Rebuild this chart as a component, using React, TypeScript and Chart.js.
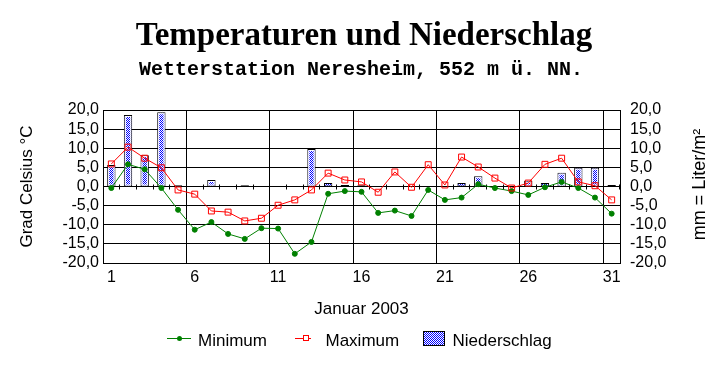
import React, { useEffect, useRef } from 'react';
import { Chart, registerables } from 'chart.js';

Chart.register(...registerables);

const titleText = 'Temperaturen und Niederschlag';
const subtitleText = 'Wetterstation Neresheim, 552 m ü. NN.';
const xTitle = 'Januar 2003';
const yLeftTitle = 'Grad Celsius °C';
const yRightTitle = 'mm = Liter/m²';

const days = [
  '1', '2', '3', '4', '5', '6', '7', '8', '9', '10',
  '11', '12', '13', '14', '15', '16', '17', '18', '19', '20',
  '21', '22', '23', '24', '25', '26', '27', '28', '29', '30', '31',
];

const minimum = [
  -0.4, 5.8, 4.5, -0.4, -6.1, -11.3, -9.3, -12.4, -13.7, -10.9,
  -11.0, -17.6, -14.5, -1.9, -1.2, -1.4, -6.9, -6.3, -7.7, -0.9,
  -3.5, -2.9, 0.6, -0.4, -1.2, -2.2, -0.2, 1.2, -0.4, -2.9, -7.1,
];

const maximum = [
  5.9, 10.3, 7.4, 4.9, -0.9, -2.0, -6.4, -6.7, -9.0, -8.3,
  -4.9, -3.5, -0.9, 3.5, 1.7, 1.2, -1.5, 3.8, -0.2, 5.7,
  0.4, 7.7, 5.1, 2.2, -0.4, 0.9, 5.8, 7.4, 1.2, 0.2, -3.5,
];

const niederschlag = [
  5.6, 18.7, 8.2, 19.4, 0.3, null, 1.7, null, 0.3, null,
  null, null, 9.8, 0.9, 0.4, 0.3, null, null, null, null,
  null, 0.9, 2.7, null, null, 1.5, 0.9, 3.6, 4.9, 4.9, 0.4,
];

const axisMin = -20;
const axisMax = 20;
const axisStep = 5;

const SANS = '"Liberation Sans", Arial, Helvetica, sans-serif';

function makePattern(): CanvasPattern | string {
  const pc = document.createElement('canvas');
  pc.width = 2;
  pc.height = 2;
  const p = pc.getContext('2d');
  if (!p) return '#0000ff';
  p.fillStyle = '#ffffff';
  p.fillRect(0, 0, 2, 2);
  p.fillStyle = '#0000ff';
  p.fillRect(0, 0, 1, 1);
  p.fillRect(1, 1, 1, 1);
  const pat = p.createPattern(pc, 'repeat');
  return pat || '#0000ff';
}

const fmt = (v: number) => v.toFixed(1).replace('.', ',');

export default function App() {
  const ref = useRef<HTMLCanvasElement | null>(null);

  useEffect(() => {
    if (!ref.current) return;
    const pattern = makePattern();

    const decor = {
      id: 'decor',
      beforeDatasetsDraw(chart: any) {
        const { ctx, scales } = chart;
        const x = scales.x;
        const y = scales.y;
        const align = (p: number) => Math.round(p - 0.5) + 0.5;
        const zeroY = align(y.getPixelForValue(0));
        const step = x.getPixelForValue(1) - x.getPixelForValue(0);
        const start = x.getPixelForValue(0) - step / 2;
        ctx.save();
        ctx.strokeStyle = '#000';
        ctx.lineWidth = 1;
        ctx.beginPath();
        for (let i = 0; i <= days.length; i++) {
          const bx = align(start + i * step);
          ctx.moveTo(bx, zeroY - 2);
          ctx.lineTo(bx, zeroY + 3);
        }
        ctx.stroke();
        ctx.restore();
      },
      afterDatasetDraw(chart: any, args: any) {
        const meta = args.meta;
        if (meta.type !== 'bar') return;
        const { ctx } = chart;
        ctx.save();
        ctx.strokeStyle = '#ffffff';
        ctx.lineWidth = 1;
        meta.data.forEach((el: any) => {
          const p = el.getProps(['x', 'y', 'base', 'width'], true);
          if (p.y == null || isNaN(p.y)) return;
          const top = Math.min(p.y, p.base);
          const h = Math.abs(p.base - p.y);
          if (h < 5 || p.width < 5) return;
          ctx.strokeRect(p.x - p.width / 2 + 1.5, top + 1.5, p.width - 3, h - 3);
        });
        ctx.restore();
      },
      afterDraw(chart: any) {
        const { ctx, chartArea } = chart;
        const ds = chart.data.datasets;
        ctx.save();
        ctx.fillStyle = '#000';
        ctx.textBaseline = 'alphabetic';

        // Title
        ctx.textAlign = 'center';
        ctx.font = 'bold 33px "Liberation Serif", "Times New Roman", serif';
        ctx.fillText(titleText, 364, 45);
        ctx.font = 'bold 20px "Liberation Mono", "Courier New", monospace';
        ctx.fillText(subtitleText, 361, 75);

        // X title
        ctx.font = '17px ' + SANS;
        ctx.fillText(xTitle, (chartArea.left + chartArea.right) / 2, 314);

        // Y titles
        ctx.save();
        ctx.translate(31.5, (chartArea.top + chartArea.bottom) / 2);
        ctx.rotate(-Math.PI / 2);
        ctx.font = '17px ' + SANS;
        ctx.fillText(yLeftTitle, 0, 0);
        ctx.restore();

        ctx.save();
        ctx.translate(705, (chartArea.top + chartArea.bottom) / 2 - 2);
        ctx.rotate(-Math.PI / 2);
        ctx.font = '18px ' + SANS;
        ctx.fillText(yRightTitle, 0, 0);
        ctx.restore();

        // Legend
        const ly = 338.5;
        const tb = 346;
        ctx.textAlign = 'left';
        ctx.font = '17px ' + SANS;
        ctx.lineWidth = 1;

        // Minimum
        ctx.strokeStyle = '#008000';
        ctx.beginPath();
        ctx.moveTo(167, ly);
        ctx.lineTo(191, ly);
        ctx.stroke();
        ctx.fillStyle = '#008000';
        ctx.beginPath();
        ctx.arc(179.5, ly, 2.5, 0, Math.PI * 2);
        ctx.fill();
        ctx.fillStyle = '#000';
        ctx.fillText(ds[0].label, 198, tb);

        // Maximum
        ctx.strokeStyle = '#ff0000';
        ctx.beginPath();
        ctx.moveTo(295, ly);
        ctx.lineTo(311, ly);
        ctx.stroke();
        ctx.fillStyle = '#ffffff';
        ctx.fillRect(303.5, 336, 5, 5);
        ctx.strokeRect(303.5, 335.5, 5, 5);
        ctx.fillStyle = '#000';
        ctx.fillText(ds[1].label, 325.5, tb);

        // Niederschlag
        ctx.fillStyle = pattern as any;
        ctx.fillRect(423, 331, 22, 15);
        ctx.strokeStyle = '#000';
        ctx.strokeRect(423.5, 331.5, 21, 14);
        ctx.fillStyle = '#000';
        ctx.fillText(ds[2].label, 452.5, tb);

        ctx.restore();
      },
    };

    const chart = new Chart(ref.current, {
      type: 'bar',
      data: {
        labels: days,
        datasets: [
          {
            type: 'line',
            label: 'Minimum',
            data: minimum,
            yAxisID: 'y',
            borderColor: '#008000',
            borderWidth: 1,
            pointStyle: 'circle',
            pointRadius: 2.5,
            pointBackgroundColor: '#008000',
            pointBorderColor: '#008000',
            pointBorderWidth: 1,
            tension: 0,
            order: 2,
          } as any,
          {
            type: 'line',
            label: 'Maximum',
            data: maximum,
            yAxisID: 'y',
            borderColor: '#ff0000',
            borderWidth: 1,
            pointStyle: 'rect',
            pointRadius: 4.2,
            pointBackgroundColor: 'rgba(0,0,0,0)',
            pointBorderColor: '#ff0000',
            pointBorderWidth: 1,
            tension: 0,
            order: 1,
          } as any,
          {
            type: 'bar',
            label: 'Niederschlag',
            data: niederschlag,
            yAxisID: 'y1',
            backgroundColor: pattern,
            borderColor: '#000000',
            borderWidth: 1,
            borderSkipped: false,
            barPercentage: 0.5,
            categoryPercentage: 1,
            order: 3,
          } as any,
        ],
      },
      options: {
        responsive: false,
        animation: false,
        devicePixelRatio: 1,
        layout: { padding: { top: 110, left: 0, right: 0, bottom: 0 } },
        plugins: {
          legend: { display: false },
          title: { display: false },
          tooltip: { enabled: false },
        },
        scales: {
          x: {
            type: 'category',
            offset: true,
            grid: {
              offset: true,
              drawTicks: false,
              color: (c: any) => (c.index !== undefined && c.index % 5 === 0 ? '#000' : 'rgba(0,0,0,0)'),
              lineWidth: 1,
            },
            border: { display: true, color: '#000', width: 1 },
            ticks: {
              autoSkip: false,
              maxRotation: 0,
              padding: 5,
              color: '#000',
              font: { family: SANS, size: 16 },
              callback: (_v: any, i: number) => (i % 5 === 0 ? days[i] : ''),
            },
            afterFit: (s: any) => {
              s.height = 105;
            },
          },
          y: {
            type: 'linear',
            position: 'left',
            min: axisMin,
            max: axisMax,
            grid: { color: '#000', lineWidth: 1, drawTicks: false },
            border: { display: true, color: '#000', width: 1 },
            ticks: {
              stepSize: axisStep,
              autoSkip: false,
              padding: 4,
              color: '#000',
              font: { family: SANS, size: 16 },
              callback: (v: any) => fmt(Number(v)),
            },
            afterFit: (s: any) => {
              s.width = 103;
            },
          },
          y1: {
            type: 'linear',
            position: 'right',
            min: axisMin,
            max: axisMax,
            grid: { display: false, drawTicks: false },
            border: { display: true, color: '#000', width: 1 },
            ticks: {
              stepSize: axisStep,
              autoSkip: false,
              padding: 10,
              color: '#000',
              font: { family: SANS, size: 16 },
              callback: (v: any) => fmt(Number(v)),
            },
            afterFit: (s: any) => {
              s.width = 103;
            },
          },
        },
      },
      plugins: [decor],
    });

    return () => {
      chart.destroy();
    };
  }, []);

  return (
    <div style={{ position: 'absolute', left: 0, top: 0, width: 723, height: 368, background: '#ffffff' }}>
      <canvas ref={ref} width={723} height={368} style={{ display: 'block' }} />
    </div>
  );
}
